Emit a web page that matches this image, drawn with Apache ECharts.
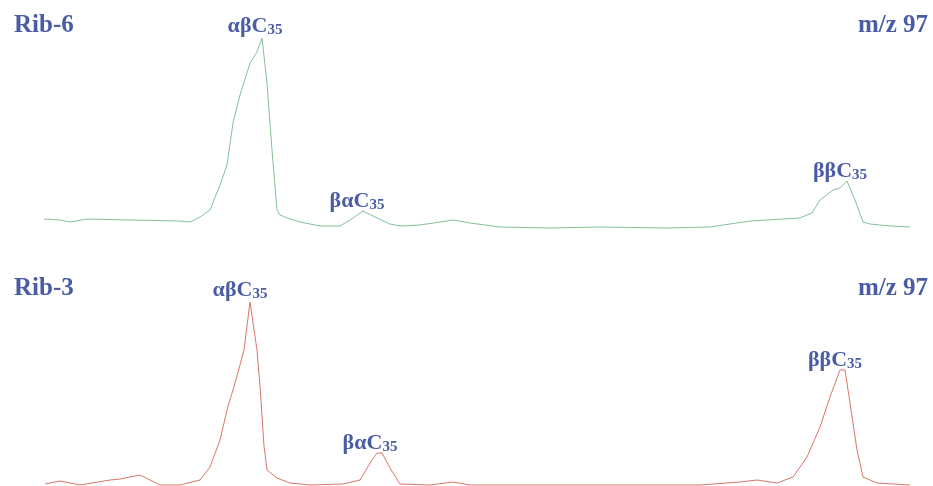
<!DOCTYPE html>
<html>
<head>
<meta charset="utf-8">
<script src="https://cdn.jsdelivr.net/npm/echarts@6/dist/echarts.min.js"></script>
<style>html,body{margin:0;padding:0;background:#fff}#c{width:933px;height:486px}</style>
</head>
<body>
<div id="c"></div>
<script>
// Rib-6 (m/z 97) trace: [scan, intensity]
var rib6Scan = [0,16,26,43,86,134,146,156,166,176,183,189,196,206,213,218,223,228,233,236,246,256,276,296,306,319,331,346,356,376,396,409,426,456,506,556,623,666,706,756,763,768,776,789,796,803,811,819,826,846,866];
var rib6Int  = [11,10,8,11,10,9,8,13,20,45,65,107,135,167,178,192,147,80,20,15,11,8,4,4,10,19,13,6,4,5,8,10,7,3,2,3,2,3,9,12,15,17,30,40,42,49,30,8,6,4,3];
// Rib-3 (m/z 97) trace
var rib3Scan = [1,16,36,66,76,96,116,136,156,166,176,184,189,193,200,206,213,216,220,223,233,246,266,299,316,328,333,338,346,356,386,409,426,556,656,696,713,733,749,763,776,786,796,801,806,813,819,833,866];
var rib3Int  = [2,5,1,6,7,11,1,1,6,19,46,80,96,110,136,184,136,100,40,16,8,3,1,2,6,26,33,33,18,2,1,4,1,1,1,4,6,3,9,29,59,89,116,116,83,36,9,3,1];
// Peak labels
var peakNames = ['αβ','βα','ββ'];
var rib6PeakScans = [218,319,803];
var rib3PeakScans = [206,333,796];
var sampleNames = ['Rib-6','Rib-3'];
var ionLabel = 'm/z 97';

var blue = '#4a5ca6';
function zip(a,b){return a.map(function(v,i){return [v,b[i]];});}
function lookup(scans, ints, s){return ints[scans.indexOf(s)];}
function peakMarks(scans, ints, peaks, offsets){
  return peaks.map(function(s,i){
    return {coord:[s, lookup(scans,ints,s)], name:peakNames[i],
      label:{offset:offsets[i]}};
  });
}
var rich = {
  g:{fontFamily:'Liberation Serif',fontWeight:'bold',fontSize:22,color:blue},
  s:{fontFamily:'Liberation Serif',fontWeight:'bold',fontSize:15,color:blue,padding:[8,0,0,0]}
};
function mp(scans, ints, peaks, offsets){
  return {
    symbol:'circle', symbolSize:0, silent:true,
    label:{show:true, position:'top', distance:0,
      formatter:function(p){return '{g|'+p.name+'C}{s|35}';}, rich:rich},
    data: peakMarks(scans, ints, peaks, offsets)
  };
}
var chart = echarts.init(document.getElementById('c'));
var titleStyle = {fontFamily:'Liberation Serif',fontWeight:'bold',fontSize:25,color:blue};
chart.setOption({
  animation:false,
  title:[
    {text:sampleNames[0], left:9, top:8, textStyle:titleStyle},
    {text:ionLabel, right:0, top:8, textStyle:titleStyle},
    {text:sampleNames[1], left:9, top:271, textStyle:titleStyle},
    {text:ionLabel, right:0, top:271, textStyle:titleStyle}
  ],
  grid:[
    {left:44, right:23, top:30, height:200},
    {left:44, right:23, top:286, height:200}
  ],
  xAxis:[
    {type:'value', gridIndex:0, min:0, max:866, show:false},
    {type:'value', gridIndex:1, min:0, max:866, show:false}
  ],
  yAxis:[
    {type:'value', gridIndex:0, min:0, max:200, show:false},
    {type:'value', gridIndex:1, min:0, max:200, show:false}
  ],
  series:[
    {type:'line', xAxisIndex:0, yAxisIndex:0, data:zip(rib6Scan,rib6Int), symbol:'none',
     lineStyle:{color:'#86bf98', width:1},
     markPoint: mp(rib6Scan, rib6Int, rib6PeakScans, [[-7,0],[-6,2],[-7,2]])},
    {type:'line', xAxisIndex:1, yAxisIndex:1, data:zip(rib3Scan,rib3Int), symbol:'none',
     lineStyle:{color:'#d7776a', width:1},
     markPoint: mp(rib3Scan, rib3Int, rib3PeakScans, [[-10,0],[-7,2],[-5,2]])}
  ]
});
</script>
</body>
</html>
